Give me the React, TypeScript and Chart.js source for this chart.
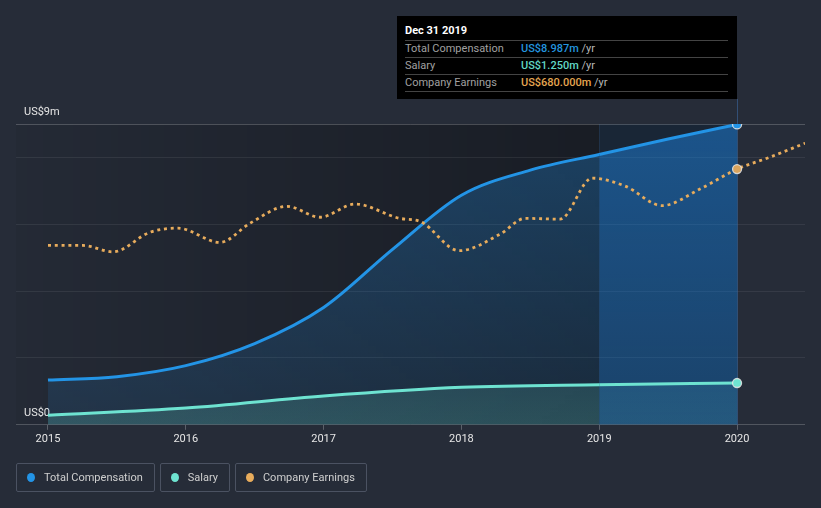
import React, { useEffect, useRef } from "react";
import { Chart, registerables } from "chart.js";
Chart.register(...registerables);

const compYears = [2015, 2015.5, 2016, 2016.5, 2017, 2017.5, 2018, 2018.5, 2019, 2019.5, 2020];
const compValues = [1.34, 1.44, 1.77, 2.43, 3.51, 5.25, 6.87, 7.62, 8.09, 8.55, 8.987];
const salaryYears = [2015, 2016, 2017, 2018, 2019, 2020];
const salaryValues = [0.285, 0.5, 0.86, 1.12, 1.2, 1.25];
const earningsYears = [
  2015.0, 2015.254, 2015.472, 2015.74, 2015.943, 2016.248, 2016.466, 2016.734, 2016.974,
  2017.228, 2017.554, 2017.7, 2017.983, 2018.28, 2018.462, 2018.716, 2018.948, 2019.187,
  2019.456, 2019.731, 2020.0, 2020.24, 2020.494,
];
const earningsValues = [
  477, 477, 460, 512, 523, 485, 536, 581, 552, 587, 549, 541, 463, 507, 549, 547, 656, 635,
  583, 627, 680, 712, 749,
];
const xTicks = [2015, 2016, 2017, 2018, 2019, 2020];
const yTicks = [0, 2, 4, 6, 8, 9];
const yLabelFor: Record<number, string> = { 0: "US$0", 9: "US$9m" };

const tooltipTitle = "Dec 31 2019";
const tooltipRows = [
  { label: "Total Compensation", value: "US$8.987m", color: "#2394df" },
  { label: "Salary", value: "US$1.250m", color: "#62d8c6" },
  { label: "Company Earnings", value: "US$680.000m", color: "#e5a651" },
];
const legendItems = [
  { label: "Total Compensation", color: "#2394e6" },
  { label: "Salary", color: "#6ee3d1" },
  { label: "Company Earnings", color: "#e8ac5c" },
];

const HL_START = 2019;
const HL_END = 2020;
const FONT_SIZE = 11;

let compFill: any = "rgba(33,150,243,0.22)";
let compFillHl: any = "rgba(33,150,243,0.38)";
let salaryFill: any = "rgba(110,230,210,0.18)";
let salaryFillHl: any = "rgba(90,200,225,0.14)";

const bgPlugin = {
  id: "bgPlugin",
  afterLayout(chart: any) {
    const { ctx, chartArea } = chart;
    if (!chartArea) return;
    const g1 = ctx.createLinearGradient(0, chartArea.top, 0, chartArea.bottom);
    g1.addColorStop(0, "rgba(33,150,243,0.30)");
    g1.addColorStop(1, "rgba(33,150,243,0.10)");
    compFill = g1;
    const g2 = ctx.createLinearGradient(0, chartArea.top, 0, chartArea.bottom);
    g2.addColorStop(0, "rgba(30,140,240,0.45)");
    g2.addColorStop(1, "rgba(30,140,240,0.28)");
    compFillHl = g2;
    const g3 = ctx.createLinearGradient(0, 370, 0, chartArea.bottom);
    g3.addColorStop(0, "rgba(110,230,210,0.13)");
    g3.addColorStop(1, "rgba(110,230,210,0.2)");
    salaryFill = g3;
    const g4 = ctx.createLinearGradient(0, 370, 0, chartArea.bottom);
    g4.addColorStop(0, "rgba(90,200,225,0.12)");
    g4.addColorStop(1, "rgba(90,200,225,0.16)");
    salaryFillHl = g4;
  },
  beforeDraw(chart: any) {
    const { ctx, chartArea, scales } = chart;
    const x = scales.x;
    const xs = x.getPixelForValue(HL_START);
    const xe = x.getPixelForValue(HL_END);
    ctx.save();
    const g = ctx.createLinearGradient(chartArea.left, 0, xs, 0);
    g.addColorStop(0, "rgba(0,0,0,0.04)");
    g.addColorStop(1, "rgba(0,0,0,0.34)");
    ctx.fillStyle = g;
    ctx.fillRect(chartArea.left, chartArea.top, xs - chartArea.left, chartArea.bottom - chartArea.top);
    ctx.fillStyle = "rgba(0,0,0,0.34)";
    ctx.fillRect(xs, chartArea.top, xe - xs, chartArea.bottom - chartArea.top);
    ctx.fillStyle = "rgba(30,136,229,0.09)";
    ctx.fillRect(xs, chartArea.top, xe - xs, chartArea.bottom - chartArea.top);
    ctx.restore();
  },
  beforeDatasetsDraw(chart: any) {
    const { ctx, chartArea, scales } = chart;
    const xe = Math.round(scales.x.getPixelForValue(HL_END)) + 0.5;
    const xs = Math.round(scales.x.getPixelForValue(HL_START)) + 0.5;
    ctx.save();
    ctx.strokeStyle = "rgba(60,110,170,0.55)";
    ctx.lineWidth = 1;
    ctx.beginPath();
    ctx.moveTo(xe, 99);
    ctx.lineTo(xe, chartArea.bottom);
    ctx.stroke();
    ctx.strokeStyle = "rgba(60,110,170,0.18)";
    ctx.beginPath();
    ctx.moveTo(xs, chartArea.top);
    ctx.lineTo(xs, chartArea.bottom);
    ctx.stroke();
    ctx.restore();
  },
};

export default function App() {
  const canvasRef = useRef<HTMLCanvasElement>(null);

  useEffect(() => {
    if (!canvasRef.current) return;
    const lastComp = compYears.length - 1;
    const lastSal = salaryYears.length - 1;
    const earnIdx = earningsYears.indexOf(2020);
    const chart = new Chart(canvasRef.current, {
      type: "line",
      data: {
        datasets: [
          {
            label: "Company Earnings",
            data: earningsYears.map((x, i) => ({ x, y: earningsValues[i] })),
            yAxisID: "y1",
            borderColor: "#e8ac5c",
            borderWidth: 2.8,
            borderDash: [3, 3.8],
            fill: false,
            cubicInterpolationMode: "monotone",
            pointRadius: (c: any) => (c.dataIndex === earnIdx ? 4.5 : 0),
            pointBackgroundColor: "#d9a45e",
            pointBorderColor: "rgba(230,230,230,0.85)",
            pointBorderWidth: 1.3,
            order: 0,
          } as any,
          {
            label: "Salary",
            data: salaryYears.map((x, i) => ({ x, y: salaryValues[i] })),
            yAxisID: "y",
            borderColor: "#6ee3d1",
            borderWidth: 3,
            fill: "origin",
            backgroundColor: () => salaryFill,
            segment: {
              backgroundColor: (c: any) => (c.p0.parsed.x >= HL_START ? salaryFillHl : undefined),
            },
            cubicInterpolationMode: "monotone",
            pointRadius: (c: any) => (c.dataIndex === lastSal ? 4.5 : 0),
            pointBackgroundColor: "#6ee3d1",
            pointBorderColor: "rgba(230,230,230,0.85)",
            pointBorderWidth: 1.3,
            order: 1,
          } as any,
          {
            label: "Total Compensation",
            data: compYears.map((x, i) => ({ x, y: compValues[i] })),
            yAxisID: "y",
            borderColor: "#2394e6",
            borderWidth: 3,
            fill: "origin",
            backgroundColor: () => compFill,
            segment: {
              backgroundColor: (c: any) => (c.p0.parsed.x >= HL_START ? compFillHl : undefined),
            },
            cubicInterpolationMode: "monotone",
            pointRadius: (c: any) => (c.dataIndex === lastComp ? 4.5 : 0),
            pointBackgroundColor: "#2394e6",
            pointBorderColor: "rgba(230,230,230,0.85)",
            pointBorderWidth: 1.3,
            order: 2,
          } as any,
        ],
      },
      options: {
        animation: false,
        responsive: false,
        events: [],
        layout: { padding: { left: 16, right: 16, top: 124, bottom: 59 } },
        plugins: { legend: { display: false }, tooltip: { enabled: false } },
        scales: {
          x: {
            type: "linear",
            min: 2014.768,
            max: 2020.493,
            afterBuildTicks: (axis: any) => {
              axis.ticks = xTicks.map((v) => ({ value: v }));
            },
            grid: {
              drawOnChartArea: false,
              drawTicks: true,
              tickLength: 5,
              color: "rgba(255,255,255,0.25)",
            },
            border: { display: false },
            ticks: {
              color: "#e6e6e6",
              padding: 3,
              font: { family: "Roboto", size: FONT_SIZE },
              callback: (v: any) => String(v),
              maxRotation: 0,
            },
          },
          y: {
            type: "linear",
            min: 0,
            max: 9,
            afterBuildTicks: (axis: any) => {
              axis.ticks = yTicks.map((v) => ({ value: v }));
            },
            afterFit: (axis: any) => {
              axis.width = 0;
            },
            grid: {
              drawTicks: false,
              color: (c: any) =>
                c.tick && (c.tick.value === 9 || c.tick.value === 0)
                  ? "rgba(255,255,255,0.2)"
                  : "rgba(255,255,255,0.07)",
            },
            border: { display: false },
            ticks: {
              mirror: true,
              padding: 8,
              labelOffset: -12,
              color: "#e6e6e6",
              font: { family: "Roboto", size: FONT_SIZE },
              callback: (v: any) => yLabelFor[v as number] ?? "",
            },
          },
          y1: {
            type: "linear",
            display: false,
            min: 0,
            max: 800,
          },
        },
      },
      plugins: [bgPlugin],
    } as any);
    return () => chart.destroy();
  }, []);

  return (
    <div
      style={{
        position: "fixed",
        left: 0,
        top: 0,
        width: 821,
        height: 508,
        background: "#262c38",
        fontFamily: "Roboto, sans-serif",
        overflow: "hidden",
      }}
    >
      <canvas ref={canvasRef} width={821} height={508} style={{ position: "absolute", left: 0, top: 0 }} />
      <div
        style={{
          position: "absolute",
          left: 397,
          top: 16,
          width: 340,
          height: 83,
          background: "#000",
          fontSize: FONT_SIZE,
        }}
      >
        <div
          style={{
            position: "absolute",
            left: 8,
            top: 8,
            lineHeight: "14px",
            color: "#fff",
            fontWeight: "bold",
          }}
        >
          {tooltipTitle}
        </div>
        {tooltipRows.map((r, i) => (
          <div
            key={r.label}
            style={{
              position: "absolute",
              left: 8,
              width: 323,
              top: 24 + 17 * i,
              height: 16,
              borderTop: "1px solid #444",
              borderBottom: i === tooltipRows.length - 1 ? "1px solid #444" : undefined,
              lineHeight: "16px",
            }}
          >
            <span style={{ position: "absolute", left: 0, color: "#a0a0a0" }}>{r.label}</span>
            <span style={{ position: "absolute", left: 116, whiteSpace: "nowrap" }}>
              <span style={{ color: r.color, fontWeight: 500 }}>{r.value}</span>
              <span style={{ color: "#b8b8b8" }}> /yr</span>
            </span>
          </div>
        ))}
      </div>
      <div style={{ position: "absolute", left: 16, top: 463, display: "flex", gap: 5 }}>
        {legendItems.map((l) => (
          <div
            key={l.label}
            style={{
              height: 27,
              border: "1px solid #4b5262",
              borderRadius: 2,
              display: "flex",
              alignItems: "center",
              padding: "0 11px 0 10px",
              color: "#cfcfcf",
              fontSize: FONT_SIZE,
              whiteSpace: "nowrap",
            }}
          >
            <span
              style={{
                width: 8,
                height: 9,
                borderRadius: "50%",
                background: l.color,
                display: "inline-block",
                marginRight: 9,
              }}
            />
            {l.label}
          </div>
        ))}
      </div>
    </div>
  );
}
